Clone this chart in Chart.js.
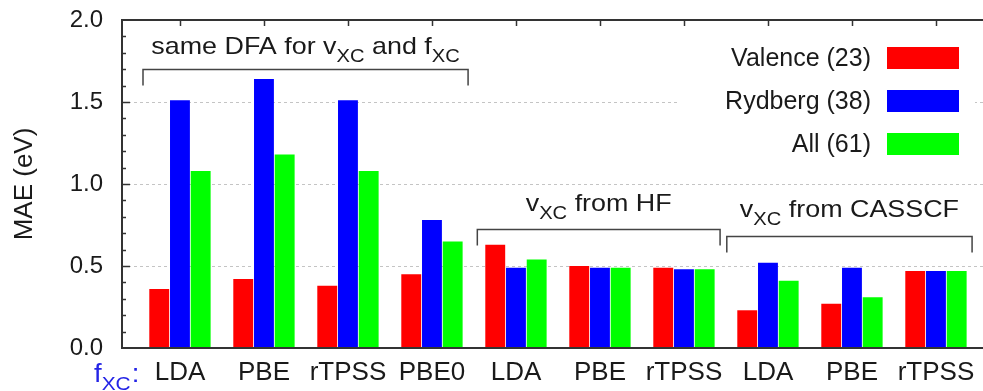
<!DOCTYPE html>
<html><head><meta charset="utf-8">
<script src="https://cdn.jsdelivr.net/npm/chart.js@4.4.1/dist/chart.umd.min.js"></script>
<style>html,body{margin:0;padding:0;background:#fff;overflow:hidden}</style>
</head><body>
<canvas id="c" width="983" height="391" style="display:block;width:983px;height:391px"></canvas>
<script>
const categories = ['LDA','PBE','rTPSS','PBE0','LDA','PBE','rTPSS','LDA','PBE','rTPSS'];
const valence = [0.36,0.42,0.38,0.45,0.63,0.50,0.49,0.23,0.27,0.47];
const rydberg = [1.51,1.64,1.51,0.78,0.49,0.49,0.48,0.52,0.49,0.47];
const allExc  = [1.08,1.18,1.08,0.65,0.54,0.49,0.48,0.41,0.31,0.47];
const seriesLabels = ['Valence (23)','Rydberg (38)','All (61)'];
const seriesColors = ['#ff0000','#0000ff','#00ff00'];
const yTickValues = [0.0,0.5,1.0,1.5,2.0];

const FONT = '"Liberation Sans", Arial, Helvetica, sans-serif';
const TXT = '#1a1a1a';

const groups = [
  {x0:-0.44, x1:3.43, yLine:1.70, yText:1.79, parts:[['same DFA for v',0],['XC',1],[' and f',0],['XC',1]]},
  {x0:3.54, x1:6.43, yLine:0.723, yText:0.835, parts:[['v',0],['XC',1],[' from HF',0]]},
  {x0:6.51, x1:9.43, yLine:0.682, yText:0.80, parts:[['v',0],['XC',1],[' from CASSCF',0]]}
];

function toXY(arr){ return arr.map((v,i)=>({x:i,y:v})); }

const decoPlugin = {
  id:'deco',
  beforeDatasetsDraw(chart){
    const ctx = chart.ctx;
    ctx.save();
    ctx.fillStyle = '#ffffff';
    ctx.fillRect(678, 27, 297, 139);
    ctx.restore();
  },
  afterDatasetsDraw(chart){
    const {ctx, chartArea:a, scales:{x,y}} = chart;
    ctx.save();
    ctx.strokeStyle = '#333';
    ctx.lineWidth = 2;
    ctx.beginPath();
    ctx.moveTo(a.right, a.top); ctx.lineTo(a.left, a.top); ctx.lineTo(a.left, a.bottom); ctx.lineTo(a.right, a.bottom);
    ctx.stroke();
    ctx.lineWidth = 1.5;
    for (let k=1;k<20;k++){
      const py = Math.round(y.getPixelForValue(k/10))+0.5;
      const len = (k%5===0) ? 8 : 4;
      ctx.beginPath(); ctx.moveTo(a.left, py); ctx.lineTo(a.left+len, py); ctx.stroke();
    }
    categories.forEach((c,i)=>{
      const px = Math.round(x.getPixelForValue(i))+0.5;
      ctx.beginPath(); ctx.moveTo(px, a.top); ctx.lineTo(px, a.top+6); ctx.stroke();
    });
    ctx.font = '25px ' + FONT;
    ctx.textAlign = 'right';
    ctx.textBaseline = 'middle';
    chart.data.datasets.forEach((ds,i)=>{
      const cy = a.top + 38 + i*43;
      ctx.fillStyle = TXT;
      ctx.fillText(ds.label, 871, cy+1);
      ctx.fillStyle = ds.backgroundColor;
      ctx.fillRect(887, cy-11, 72, 22);
    });
    ctx.strokeStyle = '#444';
    ctx.lineWidth = 1.5;
    const sx = 1.12;
    groups.forEach(g=>{
      const px0 = x.getPixelForValue(g.x0), px1 = x.getPixelForValue(g.x1);
      const py = Math.round(y.getPixelForValue(g.yLine))+0.5;
      ctx.beginPath();
      ctx.moveTo(px0, py+16); ctx.lineTo(px0, py); ctx.lineTo(px1, py); ctx.lineTo(px1, py+16);
      ctx.stroke();
      let w = 0;
      g.parts.forEach(p=>{ ctx.font = (p[1]?'18px ':'24px ')+FONT; w += ctx.measureText(p[0]).width; });
      const cx = (px0+px1)/2;
      const by = y.getPixelForValue(g.yText);
      ctx.save();
      ctx.translate(cx - w*sx/2, by);
      ctx.scale(sx,1);
      ctx.textAlign = 'left';
      ctx.textBaseline = 'alphabetic';
      ctx.fillStyle = TXT;
      let xx = 0;
      g.parts.forEach(p=>{
        ctx.font = (p[1]?'18px ':'24px ')+FONT;
        ctx.fillText(p[0], xx, p[1]?8:0);
        xx += ctx.measureText(p[0]).width;
      });
      ctx.restore();
    });
    ctx.save();
    ctx.fillStyle = '#2424e6';
    ctx.textAlign = 'left';
    ctx.textBaseline = 'alphabetic';
    ctx.translate(94, 382);
    ctx.scale(1.1,1);
    ctx.font = '25px ' + FONT;
    ctx.fillText('f', 0, 0);
    let fx = ctx.measureText('f').width;
    ctx.font = '19px ' + FONT;
    ctx.fillText('XC', fx, 8);
    fx += ctx.measureText('XC').width;
    ctx.font = '25px ' + FONT;
    ctx.fillText(':', fx+1, 0);
    ctx.restore();
    ctx.restore();
  }
};

new Chart(document.getElementById('c'), {
  type:'bar',
  data:{
    datasets:[
      {label:seriesLabels[0], data:toXY(valence), backgroundColor:seriesColors[0]},
      {label:seriesLabels[1], data:toXY(rydberg), backgroundColor:seriesColors[1]},
      {label:seriesLabels[2], data:toXY(allExc), backgroundColor:seriesColors[2]}
    ]
  },
  options:{
    responsive:false,
    animation:false,
    devicePixelRatio:1,
    layout:{padding:{top:20,right:0,bottom:0,left:0}},
    datasets:{bar:{categoryPercentage:0.74, barPercentage:0.96, borderWidth:0}},
    plugins:{legend:{display:false}, tooltip:{enabled:false}},
    scales:{
      x:{
        type:'linear', min:-0.69, max:9.56, offset:false, bounds:'data',
        afterBuildTicks(axis){ axis.ticks = categories.map((c,i)=>({value:i})); },
        afterFit(s){ s.height = 43; s.paddingLeft = 0; s.paddingRight = 0; },
        ticks:{autoSkip:false, maxRotation:0, padding:9, color:TXT, font:{family:FONT,size:26},
          callback:(v)=>categories[v]},
        grid:{display:false, drawTicks:false, offset:false},
        border:{display:false}
      },
      y:{
        type:'linear', min:0, max:2,
        afterBuildTicks(axis){ axis.ticks = yTickValues.map(v=>({value:v})); },
        afterFit(s){ s.width = 122; s.paddingTop = 0; s.paddingBottom = 0; },
        ticks:{autoSkip:false, padding:19, color:TXT, font:{family:FONT,size:24},
          callback:(v)=>Number(v).toFixed(1)},
        grid:{drawTicks:false, lineWidth:1,
          color:(c)=> (c.tick && (c.tick.value===0 || c.tick.value===2)) ? 'rgba(0,0,0,0)' : '#c4c4c4'},
        border:{display:false, dash:[3,3]},
        title:{display:true, text:'MAE (eV)', color:TXT, font:{family:FONT,size:26}, padding:{top:9,bottom:0}}
      }
    }
  },
  plugins:[decoPlugin]
});
</script>
</body></html>
